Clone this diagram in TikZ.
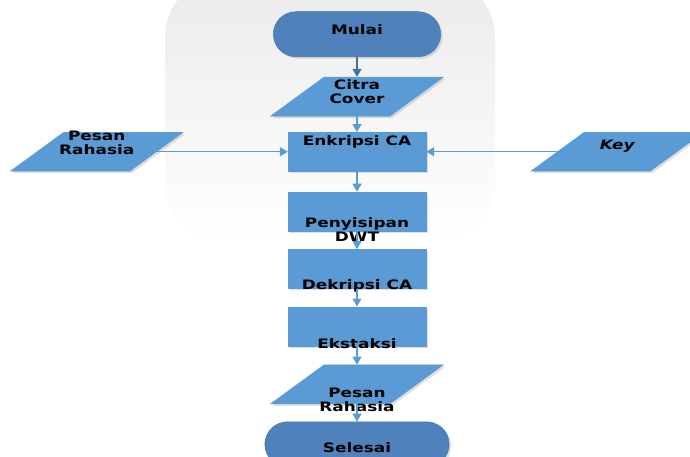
\documentclass[tikz,border=0pt]{standalone}
\usepackage{fontspec}
\setmainfont{DejaVu Sans}[FakeStretch=1.3]
\usetikzlibrary{shapes.geometric,shapes.misc,arrows.meta,positioning,shadows}
\definecolor{boxblue}{HTML}{5B9BD5}
\definecolor{termblue}{HTML}{4F81BD}
\definecolor{edgeblue}{HTML}{41719C}
\tikzset{
  % Terminator: start / stop
  termbox/.style={rounded rectangle, draw=edgeblue, fill=termblue, line width=0.4pt,
                  minimum width=174pt, minimum height=45pt,
                  drop shadow={shadow xshift=2pt, shadow yshift=-2pt, opacity=0.25}},
  % Process box
  procbox/.style={rectangle, draw=boxblue, fill=boxblue, line width=0.4pt,
                  minimum width=138pt, minimum height=39pt,
                  drop shadow={shadow xshift=2pt, shadow yshift=-2pt, opacity=0.25}},
  % Input / output: parallelogram
  iobox/.style={trapezium, trapezium left angle=51, trapezium right angle=129,
                trapezium stretches=true, draw=boxblue, fill=boxblue, line width=0.4pt,
                minimum width=173pt, minimum height=39pt,
                drop shadow={shadow xshift=2pt, shadow yshift=-2pt, opacity=0.25}},
  % Text placed on a shape
  txt/.style={font=\bfseries\fontsize{13}{14}\selectfont, align=center, inner sep=0pt, text=black},
  % Arrows
  flowarr/.style={-{Triangle[width=9pt,length=8pt]}, line width=1.2pt, draw=boxblue, fill=boxblue},
  flowarr-dark/.style={flowarr, draw=edgeblue, fill=edgeblue}
}

\begin{document}
\begin{tikzpicture}[x=1pt, y=1pt, node distance=18pt]
\useasboundingbox (0,0) rectangle (690,457);
\fill[white] (0,0) rectangle (690,457);
\shade[top color=black!8, bottom color=white, rounded corners=60pt] (165,480) rectangle (495,215);

% Main column
\node[termbox, label={[txt, yshift=5pt]center:Mulai}] (mulai) at (357,422.8) {};
\node[iobox, below=20pt of mulai, label={[txt, yshift=4.5pt]center:Citra\\Cover}] (citra) {};
\node[procbox, below=15.7pt of citra, label={[txt, yshift=10pt]center:Enkripsi CA}] (enc) {};
\node[procbox, below=20.3pt of enc, label={[txt, yshift=-18.5pt]center:Penyisipan\\DWT}] (sisip) {};
\node[procbox, below=of sisip, label={[txt, yshift=-17pt]center:Dekripsi CA}] (dek) {};
\node[procbox, below=of dek, label={[txt, yshift=-17pt]center:Ekstaksi}] (ekst) {};
\node[iobox, below=18.7pt of ekst, label={[txt, yshift=-15.3pt]center:Pesan\\Rahasia}] (pesanout) {};
\node[termbox, minimum width=191pt, below=17.6pt of pesanout, label={[txt, yshift=-3pt]center:Selesai}] (selesai) {};

% Side inputs
\node[iobox, left=131pt of enc, label={[txt, yshift=9pt]center:Pesan\\Rahasia}] (pesanin) {};
\node[iobox, right=131pt of enc, label={[txt, yshift=5.5pt]center:\itshape Key}] (key) {};

% Connectors
\draw[flowarr-dark] (mulai) -- (citra);
\draw[flowarr] (citra) -- (enc);
\draw[flowarr] (pesanin) -- (enc);
\draw[flowarr] (key) -- (enc);
\draw[flowarr] (enc) -- (sisip);
\draw[flowarr] (sisip) -- (dek);
\draw[flowarr] (dek) -- (ekst);
\draw[flowarr] (ekst) -- (pesanout);
\draw[flowarr] (pesanout) -- (selesai);

\end{tikzpicture}
\end{document}
